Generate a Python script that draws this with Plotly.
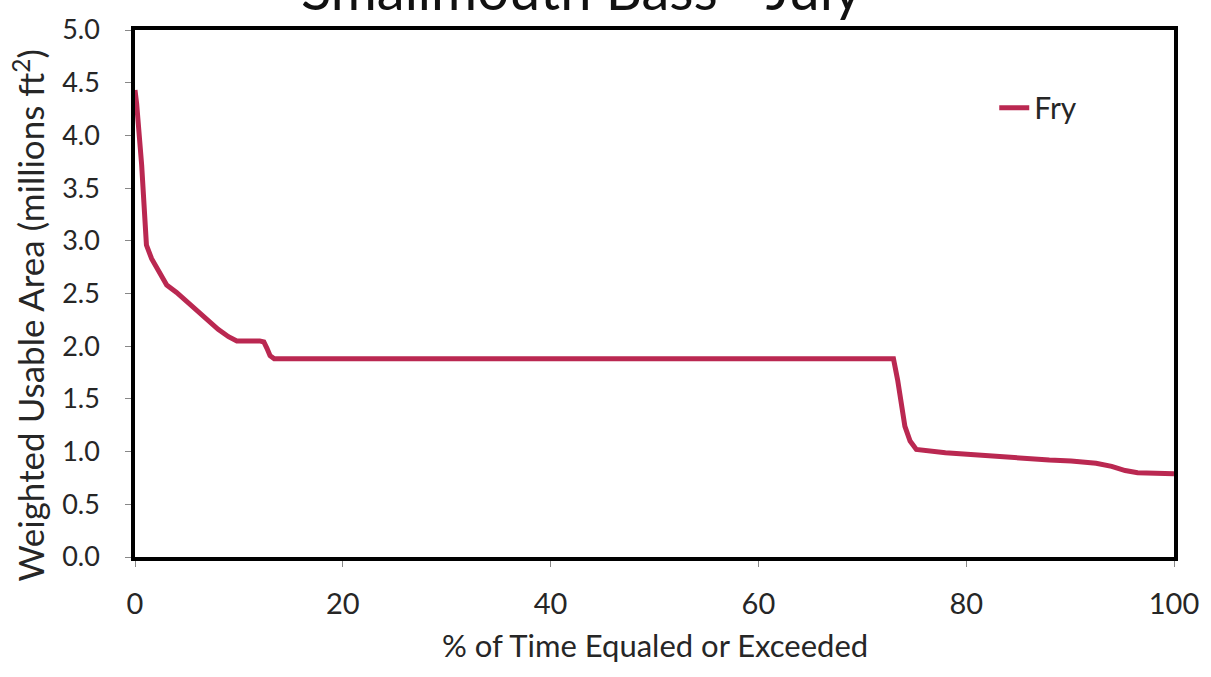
import plotly.graph_objects as go

# Data
pct_time = [0.0, 0.16, 0.64, 1.1, 1.6, 2.2, 3.05, 4.0, 5.0, 6.0, 6.9, 8.0, 9.0, 9.8, 12.0, 12.4, 12.7, 13.0, 13.4, 20, 40, 60, 73.0, 73.4, 73.8, 74.1, 74.6, 75.2, 78, 80.5, 85.3, 88.0, 90.1, 92.5, 94.0, 95.3, 96.5, 99.9, 100.0]
fry_wua = [4.43, 4.30, 3.72, 2.96, 2.83, 2.72, 2.58, 2.51, 2.42, 2.34, 2.25, 2.16, 2.09, 2.05, 2.05, 2.04, 1.98, 1.91, 1.88, 1.88, 1.88, 1.88, 1.88, 1.68, 1.42, 1.24, 1.10, 1.02, 0.99, 0.97, 0.93, 0.92, 0.91, 0.89, 0.86, 0.82, 0.80, 0.79, 0.79]

y_ticks = [0, 0.5, 1, 1.5, 2, 2.5, 3, 3.5, 4, 4.5, 5]
x_ticks = [0, 20, 40, 60, 80, 100]

FONT = "Lato"
TXT = "#262626"
line_color = "#BA2851"

fig = go.Figure()
fig.add_trace(go.Scatter(
    x=pct_time, y=fry_wua, mode="lines", name="Fry",
    line=dict(color=line_color, width=5),
))

fig.update_layout(
    width=1211, height=677,
    margin=dict(l=135, r=35, t=24, b=120),
    paper_bgcolor="white", plot_bgcolor="white",
    font=dict(family=FONT, color=TXT),
    showlegend=True,
    legend=dict(x=0.827, y=0.8525, xanchor="left", yanchor="middle",
                bgcolor="rgba(0,0,0,0)", font=dict(family=FONT, size=30, color=TXT)),
    annotations=[
        dict(text="Smallmouth Bass - July", xref="paper", yref="paper",
             x=0.43, y=1, xanchor="center", yanchor="bottom", yshift=6,
             showarrow=False, font=dict(family=FONT, size=56, color="#111111")),
        dict(text="% of Time Equaled or Exceeded", xref="paper", yref="paper",
             x=0.5, y=0, xanchor="center", yanchor="middle", yshift=-88,
             showarrow=False, font=dict(family=FONT, size=31, color=TXT)),
        dict(text="Weighted Usable Area (millions ft<sup>2</sup>)", xref="paper", yref="paper",
             x=0, y=0.5, xanchor="center", yanchor="middle", xshift=-107, yshift=-22,
             textangle=-90, showarrow=False, font=dict(family=FONT, size=35, color=TXT)),
    ],
)

fig.update_xaxes(
    range=[0, 100], tickvals=x_ticks,
    ticks="outside", ticklen=6, tickcolor="#888888", tickwidth=1,
    ticklabelstandoff=12,
    showline=True, linecolor="black", linewidth=3.5, mirror=True,
    showgrid=False, zeroline=False,
    tickfont=dict(family=FONT, size=29, color=TXT),
)
fig.update_yaxes(
    range=[0, 5.0], tickvals=y_ticks,
    tickformat=".1f",
    ticks="outside", ticklen=6, tickcolor="#888888", tickwidth=1,
    ticklabelstandoff=20,
    showline=True, linecolor="black", linewidth=3.5, mirror=True,
    showgrid=False, zeroline=False,
    tickfont=dict(family=FONT, size=27, color=TXT),
)

fig.write_html("out.html", config={"displayModeBar": False},
               post_script="document.body.style.margin='0';")
